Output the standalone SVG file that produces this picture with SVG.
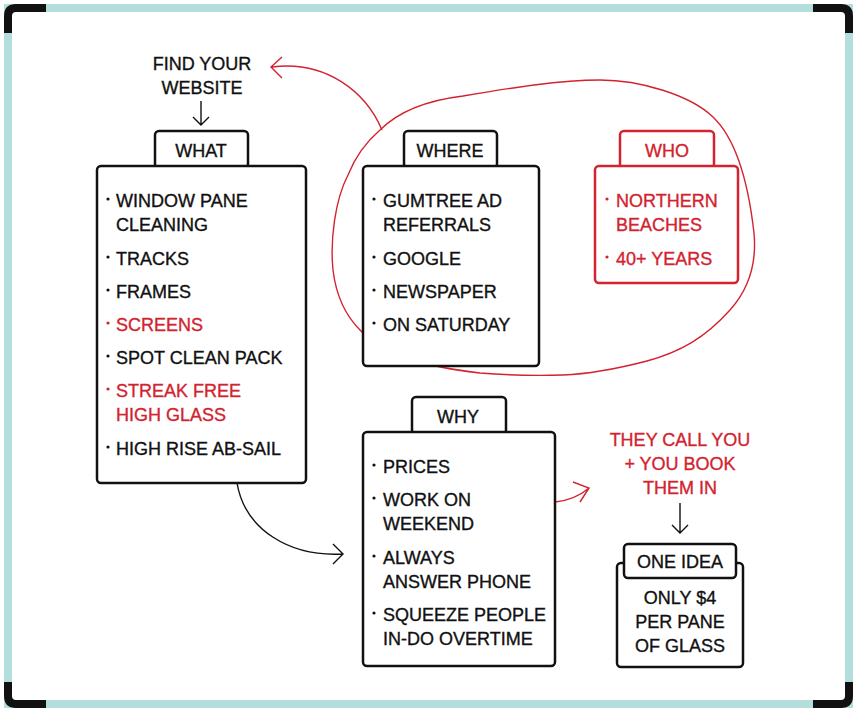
<svg xmlns="http://www.w3.org/2000/svg" width="853" height="708" viewBox="0 0 853 708">
<defs>
<style>
text{font-family:"Liberation Sans",Arial,sans-serif;font-size:18px;fill:#111;stroke:#111;stroke-width:0.35}
text.r{fill:#d2232f;stroke:#d2232f}
.c{text-anchor:middle}
.box{fill:#fff;stroke:#111;stroke-width:2.5}
.rbox{fill:#fff;stroke:#d2232f;stroke-width:2.5}
.dot{fill:#111}
.rdot{fill:#d2232f}
.ln{fill:none;stroke:#111;stroke-width:1.4}
.rln{fill:none;stroke:#d2232f;stroke-width:1.4}
</style>
</defs>
<rect width="853" height="708" fill="#fff"/>
<!-- frame -->
<rect x="8" y="8" width="841" height="696" fill="none" stroke="#b3dedc" stroke-width="8"/>
<g fill="none" stroke="#111" stroke-width="8">
<path d="M8,33 V16 Q8,8 16,8 H46"/>
<path d="M813,8 H841 Q849,8 849,16 V33"/>
<path d="M8,682 V696 Q8,704 16,704 H46"/>
<path d="M813,704 H841 Q849,704 849,696 V682"/>
</g>

<g id="find-website">
<text class="c" x="202" y="70">FIND YOUR</text>
<text class="c" x="202" y="94">WEBSITE</text>
</g>

<g id="connectors">
<path class="ln" d="M201,101 V125 M193,117 L201,125 L209,117"/>
<path class="rln" d="M382,130 C366,92 326,60 272,67 M282,57 L271,67 L282,78"/>
<path class="ln" d="M237,483 C245,530 290,557 343,554 M333,544 L343,554 L333,564"/>
<path class="rln" d="M555,502 Q575,500 589,488 M573,482 L589,488 L580,502"/>
<path class="ln" d="M680,503 V533 M672,525 L680,533 L688,525"/>
</g>

<g id="blob">
<path class="rln" stroke-width="2" d="M380,130 C400,110 430,100 463,96 C510,88 560,80 600,80 C640,80 690,95 713,117 C735,138 748,180 754,233 C757,265 748,290 730,310 C705,338 680,352 647,361 C620,368 590,374 563,375 C530,376 505,375 480,373 C455,370 430,366 413,360 C390,352 372,343 360,330 C345,315 336,295 333,270 C330,240 335,200 348,175 C356,155 366,142 380,130 Z"/>
</g>

<g id="what">
<rect class="box" x="155" y="131" width="93" height="37" rx="4"/>
<rect class="box" x="97" y="166" width="209" height="317" rx="4"/>
<text class="c" x="201" y="157">WHAT</text>
<circle class="dot" cx="108" cy="199" r="1.6"/>
<text x="116" y="207">WINDOW PANE</text>
<text x="116" y="231">CLEANING</text>
<circle class="dot" cx="108" cy="257" r="1.6"/>
<text x="116" y="265">TRACKS</text>
<circle class="dot" cx="108" cy="290" r="1.6"/>
<text x="116" y="298">FRAMES</text>
<circle class="rdot" cx="108" cy="323" r="1.6"/>
<text class="r" x="116" y="331">SCREENS</text>
<circle class="dot" cx="108" cy="356" r="1.6"/>
<text x="116" y="364">SPOT CLEAN PACK</text>
<circle class="rdot" cx="108" cy="389" r="1.6"/>
<text class="r" x="116" y="397">STREAK FREE</text>
<text class="r" x="116" y="421">HIGH GLASS</text>
<circle class="dot" cx="108" cy="447" r="1.6"/>
<text x="116" y="455">HIGH RISE AB-SAIL</text>
</g>

<g id="where">
<rect class="box" x="404" y="131" width="93" height="37" rx="4"/>
<rect class="box" x="363" y="166" width="176" height="200" rx="4"/>
<text class="c" x="450" y="157">WHERE</text>
<circle class="dot" cx="374" cy="199" r="1.6"/>
<text x="383" y="207">GUMTREE AD</text>
<text x="383" y="231">REFERRALS</text>
<circle class="dot" cx="374" cy="257" r="1.6"/>
<text x="383" y="265">GOOGLE</text>
<circle class="dot" cx="374" cy="290" r="1.6"/>
<text x="383" y="298">NEWSPAPER</text>
<circle class="dot" cx="374" cy="323" r="1.6"/>
<text x="383" y="331">ON SATURDAY</text>
</g>

<g id="who">
<rect class="rbox" x="620" y="131" width="94" height="37" rx="4"/>
<rect class="rbox" x="595" y="166" width="143" height="117" rx="4"/>
<text class="c r" x="667" y="157">WHO</text>
<circle class="rdot" cx="607" cy="199" r="1.6"/>
<text class="r" x="616" y="207">NORTHERN</text>
<text class="r" x="616" y="231">BEACHES</text>
<circle class="rdot" cx="607" cy="257" r="1.6"/>
<text class="r" x="616" y="265">40+ YEARS</text>
</g>

<g id="why">
<rect class="box" x="412" y="397" width="94" height="37" rx="4"/>
<rect class="box" x="363" y="432" width="192" height="234" rx="4"/>
<text class="c" x="458" y="423">WHY</text>
<circle class="dot" cx="374" cy="465" r="1.6"/>
<text x="383" y="473">PRICES</text>
<circle class="dot" cx="374" cy="498" r="1.6"/>
<text x="383" y="506">WORK ON</text>
<text x="383" y="530">WEEKEND</text>
<circle class="dot" cx="374" cy="556" r="1.6"/>
<text x="383" y="564">ALWAYS</text>
<text x="383" y="588">ANSWER PHONE</text>
<circle class="dot" cx="374" cy="613" r="1.6"/>
<text x="383" y="621">SQUEEZE PEOPLE</text>
<text x="383" y="645">IN-DO OVERTIME</text>
</g>

<g id="they-call">
<text class="c r" x="680" y="446">THEY CALL YOU</text>
<text class="c r" x="680" y="470">+ YOU BOOK</text>
<text class="c r" x="680" y="494">THEM IN</text>
</g>

<g id="one-idea">
<rect class="box" x="617" y="563" width="126" height="104" rx="4"/>
<rect class="box" x="624" y="544" width="112" height="34" rx="4"/>
<text class="c" x="680" y="568">ONE IDEA</text>
<text class="c" x="680" y="604">ONLY $4</text>
<text class="c" x="680" y="628">PER PANE</text>
<text class="c" x="680" y="652">OF GLASS</text>
</g>
</svg>
